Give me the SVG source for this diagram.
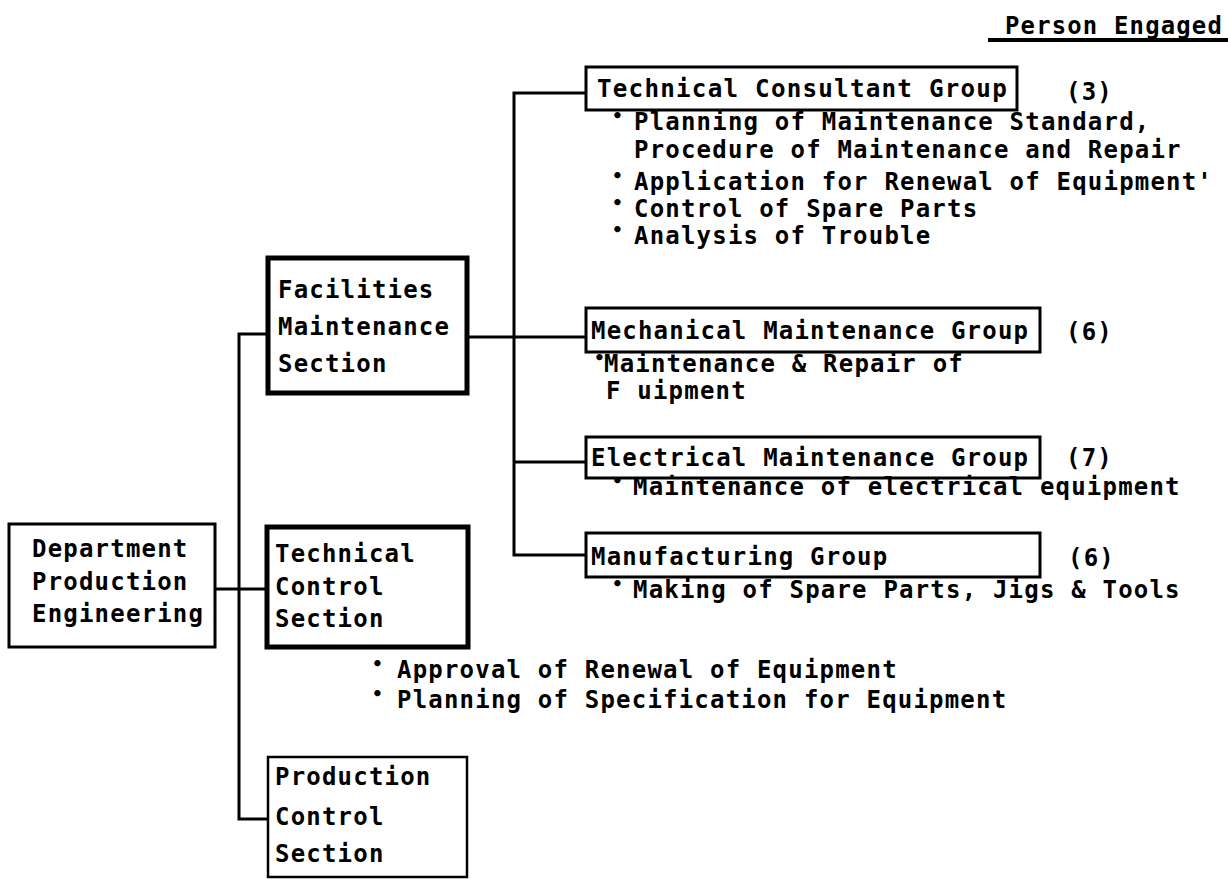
<svg xmlns="http://www.w3.org/2000/svg" width="1228" height="879" viewBox="0 0 1228 879">
<style>
  text { font-family: "DejaVu Sans Mono", "Liberation Mono", monospace; font-weight: bold; font-size: 24px; letter-spacing: 1.2px; fill: #000; }
  .box { fill: #fff; stroke: #000; stroke-width: 3; }
  .thick { stroke-width: 5; }
  .thin { stroke-width: 2.5; }
  .conn { fill: none; stroke: #000; stroke-width: 3; }
  .b { font-size: 18px; letter-spacing: 0; }
</style>
<rect width="1228" height="879" fill="#fff"/>

<g id="heading">
  <text x="1005" y="34" textLength="218" lengthAdjust="spacingAndGlyphs">Person Engaged</text>
  <line x1="988" y1="40" x2="1228" y2="40" stroke="#000" stroke-width="4"/>
</g>

<g id="connectors">
  <polyline class="conn" points="268,334 239,334 239,819 268,819"/>
  <line class="conn" x1="215" y1="589" x2="267" y2="589"/>
  <line class="conn" x1="467" y1="337" x2="586" y2="337"/>
  <polyline class="conn" points="586,93 514,93 514,555 586,555"/>
  <line class="conn" x1="514" y1="462" x2="586" y2="462"/>
</g>

<g id="dept">
  <rect class="box" x="9" y="524" width="206" height="123"/>
  <text x="32" y="557">Department</text>
  <text x="32" y="590">Production</text>
  <text x="32" y="622">Engineering</text>
</g>

<g id="facilities">
  <rect class="box thick" x="268" y="258" width="199" height="135"/>
  <text x="278" y="298">Facilities</text>
  <text x="278" y="335">Maintenance</text>
  <text x="278" y="372">Section</text>
</g>

<g id="techcontrol">
  <rect class="box thick" x="267" y="527" width="201" height="120"/>
  <text x="275" y="562">Technical</text>
  <text x="275" y="595">Control</text>
  <text x="275" y="627">Section</text>
</g>

<g id="techcontrol-notes">
  <text class="b" x="372" y="670">•</text>
  <text x="397" y="678">Approval of Renewal of Equipment</text>
  <text class="b" x="372" y="700">•</text>
  <text x="397" y="708">Planning of Specification for Equipment</text>
</g>

<g id="prodcontrol">
  <rect class="box thin" x="268" y="757" width="199" height="120"/>
  <text x="275" y="785">Production</text>
  <text x="275" y="825">Control</text>
  <text x="275" y="862">Section</text>
</g>

<g id="techconsult">
  <rect class="box" x="586" y="67" width="431" height="43"/>
  <text x="597" y="97" textLength="411" lengthAdjust="spacingAndGlyphs">Technical Consultant Group</text>
  <text x="1066" y="100">(3)</text>
  <text class="b" x="612" y="122">•</text>
  <text x="634" y="130">Planning of Maintenance Standard,</text>
  <text x="634" y="158">Procedure of Maintenance and Repair</text>
  <text class="b" x="612" y="182">•</text>
  <text x="634" y="190">Application for Renewal of Equipment'</text>
  <text class="b" x="612" y="209">•</text>
  <text x="634" y="217">Control of Spare Parts</text>
  <text class="b" x="612" y="236">•</text>
  <text x="634" y="244">Analysis of Trouble</text>
</g>

<g id="mechanical">
  <rect class="box" x="586" y="308" width="454" height="44"/>
  <text x="591" y="339">Mechanical Maintenance Group</text>
  <text x="1066" y="340">(6)</text>
  <text class="b" x="594" y="364">•</text>
  <text x="604" y="372">Maintenance &amp; Repair of</text>
  <text x="606" y="399">F uipment</text>
</g>

<g id="electrical">
  <rect class="box" x="586" y="437" width="454" height="41"/>
  <text x="591" y="466">Electrical Maintenance Group</text>
  <text x="1066" y="466">(7)</text>
  <text class="b" x="612" y="487">•</text>
  <text x="633" y="495">Maintenance of electrical equipment</text>
</g>

<g id="manufacturing">
  <rect class="box" x="586" y="533" width="454" height="44"/>
  <text x="591" y="565">Manufacturing Group</text>
  <text x="1068" y="566">(6)</text>
  <text class="b" x="612" y="590">•</text>
  <text x="633" y="598">Making of Spare Parts, Jigs &amp; Tools</text>
</g>
</svg>
